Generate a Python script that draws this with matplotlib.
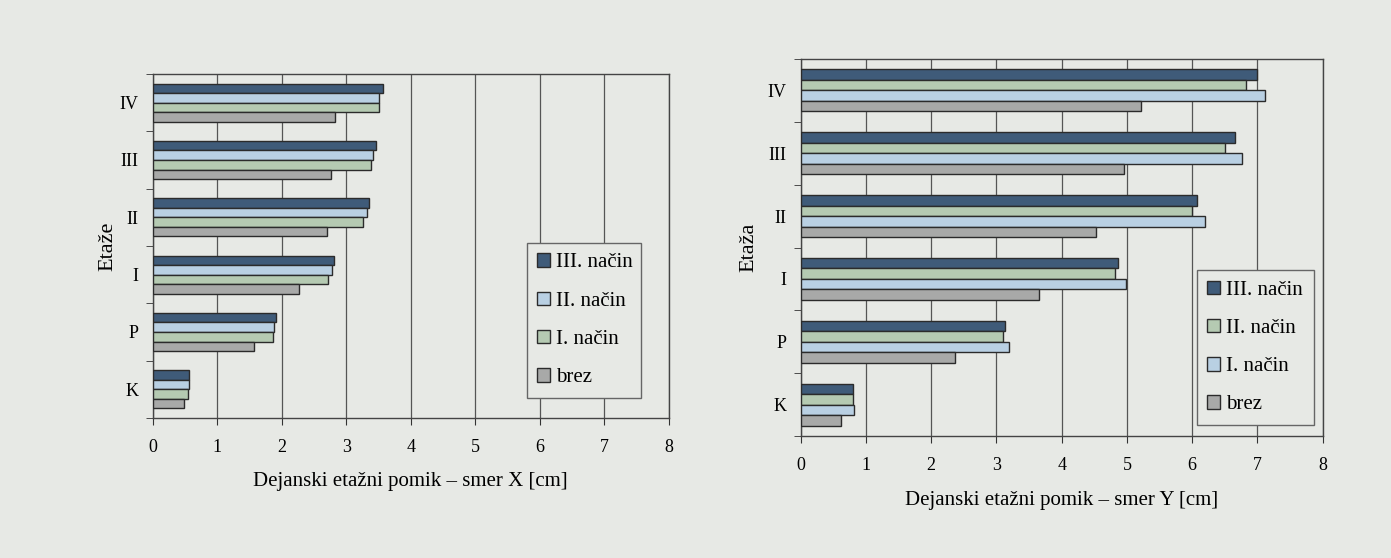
import numpy as np
import matplotlib.pyplot as plt
from matplotlib.patches import Patch

plt.rcParams["font.family"] = ["Liberation Serif", "DejaVu Serif"]

# Data
floors = ["K", "P", "I", "II", "III", "IV"]
labels = ["III. način", "II. način", "I. način", "brez"]

# smer X
x_iii = [0.56, 1.91, 2.81, 3.35, 3.46, 3.57]
x_ii = [0.56, 1.88, 2.78, 3.32, 3.41, 3.50]
x_i = [0.54, 1.86, 2.72, 3.26, 3.39, 3.50]
x_brez = [0.48, 1.57, 2.27, 2.70, 2.76, 2.82]

# smer Y
y_iii = [0.80, 3.13, 4.87, 6.07, 6.66, 7.00]
y_ii = [0.80, 3.10, 4.82, 6.00, 6.51, 6.83]
y_i = [0.82, 3.19, 4.98, 6.19, 6.77, 7.11]
y_brez = [0.62, 2.36, 3.65, 4.53, 4.96, 5.22]

dark = "#3f5b79"
lblue = "#b9d0e3"
green = "#b5cab2"
gray = "#a8a9a8"
bg = "#e7e9e5"

fig = plt.figure(figsize=(13.91, 5.58), dpi=100, facecolor=bg)
ax1 = fig.add_axes([0.1098, 0.2509, 0.3710, 0.6165])
ax2 = fig.add_axes([0.5756, 0.2186, 0.3753, 0.6756])


def draw(ax, series, colors, ylabel, xlabel, ypad, leg_box):
    pos = np.arange(len(floors))
    h = 0.167
    for k, (vals, col) in enumerate(zip(series, colors)):
        ax.barh(pos + (1.5 - k) * h, vals, height=h, color=col,
                edgecolor="#2b2b2b", linewidth=1.0, zorder=3)
    ax.set_facecolor(bg)
    ax.set_xlim(0, 8)
    ax.set_ylim(-0.5, len(floors) - 0.5)
    ax.set_xticks(range(0, 9))
    ax.set_yticks(pos)
    ax.set_yticklabels(floors)
    ax.set_yticks(np.arange(-0.5, len(floors)), minor=True)
    ax.tick_params(axis="y", which="major", length=0, pad=10, labelsize=13)
    ax.tick_params(axis="y", which="minor", length=5, color="#333333")
    ax.tick_params(axis="x", length=5, pad=10, labelsize=13, color="#333333")
    ax.grid(axis="x", color="#555555", linewidth=0.9, zorder=0)
    for s in ax.spines.values():
        s.set_color("#444444")
        s.set_linewidth(1.0)
    ax.set_xlabel(xlabel, fontsize=15, labelpad=12)
    ax.set_ylabel(ylabel, fontsize=16, labelpad=ypad)
    handles = [Patch(facecolor=c, edgecolor="#2b2b2b", linewidth=1.0) for c in colors]
    leg = ax.legend(handles, labels, loc="upper left", bbox_to_anchor=leg_box,
                    mode="expand", fontsize=15, frameon=True, fancybox=False,
                    handlelength=0.62, handleheight=0.62, handletextpad=0.3,
                    labelspacing=0.92, borderpad=0.5, borderaxespad=0)
    leg.get_frame().set_facecolor(bg)
    leg.get_frame().set_edgecolor("#666666")
    leg.get_frame().set_alpha(1)


draw(ax1, [x_iii, x_ii, x_i, x_brez], [dark, lblue, green, gray],
     "Etaže", "Dejanski etažni pomik – smer X [cm]", 2, (0.725, 0.0, 0.221, 0.509))
draw(ax2, [y_iii, y_ii, y_i, y_brez], [dark, green, lblue, gray],
     "Etaža", "Dejanski etažni pomik – smer Y [cm]", 7, (0.759, 0.0, 0.224, 0.440))

fig.savefig("out.png", dpi=100, facecolor=bg)
